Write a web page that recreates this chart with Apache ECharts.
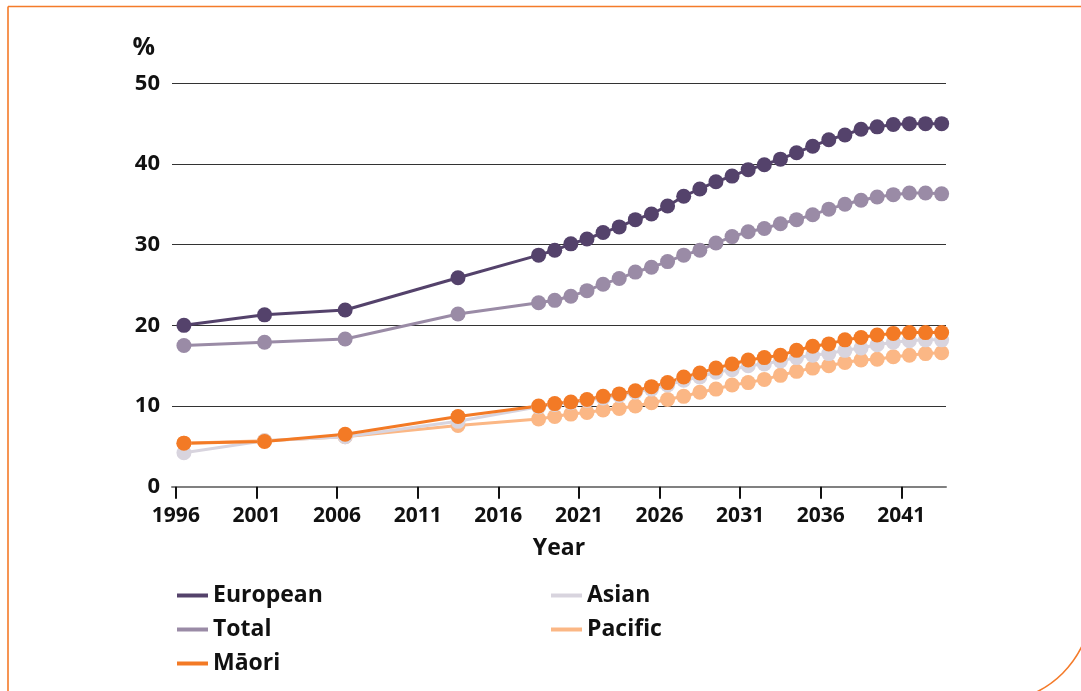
<!DOCTYPE html>
<html>
<head>
<meta charset="utf-8">
<title>Population share by ethnic group, 1996–2043</title>
<script src="https://cdn.jsdelivr.net/npm/echarts@6/dist/echarts.min.js"></script>
<style>
  html, body { margin: 0; padding: 0; background: #ffffff; }
  #chart { width: 1081px; height: 691px; }
</style>
</head>
<body>
<div id="chart"></div>
<script>
// Census years, then annual projections
const years = [1996, 2001, 2006, 2013, 2018, 2019, 2020, 2021, 2022, 2023, 2024, 2025,
  2026, 2027, 2028, 2029, 2030, 2031, 2032, 2033, 2034, 2035, 2036, 2037, 2038,
  2039, 2040, 2041, 2042, 2043];

// Percentages per group
const european = [20.0, 21.3, 21.9, 25.9, 28.7, 29.3, 30.1, 30.7, 31.5, 32.2, 33.1, 33.8,
  34.8, 36.0, 36.9, 37.8, 38.5, 39.3, 39.9, 40.6, 41.4, 42.2, 43.0, 43.6, 44.3,
  44.6, 44.9, 45.0, 45.0, 45.0];
const total = [17.5, 17.9, 18.3, 21.4, 22.8, 23.1, 23.6, 24.3, 25.1, 25.8, 26.6, 27.2,
  27.9, 28.7, 29.3, 30.2, 31.0, 31.6, 32.0, 32.6, 33.1, 33.7, 34.4, 35.0, 35.5,
  35.9, 36.2, 36.4, 36.4, 36.3];
const maori = [5.4, 5.6, 6.5, 8.7, 10.0, 10.3, 10.5, 10.8, 11.2, 11.5, 11.9, 12.4,
  12.9, 13.6, 14.1, 14.7, 15.2, 15.7, 16.0, 16.3, 16.9, 17.4, 17.7, 18.2, 18.5,
  18.8, 19.0, 19.1, 19.1, 19.1];
const asian = [4.2, 5.7, 6.2, 8.1, 9.9, 10.2, 10.4, 10.7, 11.0, 11.3, 11.7, 12.1,
  12.6, 13.2, 13.6, 14.2, 14.5, 15.0, 15.2, 15.6, 16.0, 16.3, 16.5, 16.9, 17.2,
  17.6, 17.9, 18.1, 18.2, 18.2];
const pacific = [5.4, 5.7, 6.2, 7.6, 8.4, 8.7, 9.0, 9.2, 9.5, 9.7, 10.0, 10.4,
  10.8, 11.2, 11.7, 12.1, 12.6, 12.9, 13.3, 13.8, 14.3, 14.7, 15.0, 15.4, 15.7,
  15.8, 16.1, 16.3, 16.5, 16.6];

const yearTicks = [1996, 2001, 2006, 2011, 2016, 2021, 2026, 2031, 2036, 2041];
const yTicks = [0, 10, 20, 30, 40, 50];

const groups = [
  { name: 'Pacific', values: pacific, color: '#fbb785' },
  { name: 'Asian', values: asian, color: '#d8d4de' },
  { name: 'Total', values: total, color: '#9a8ba6' },
  { name: 'European', values: european, color: '#54426b' },
  { name: 'Māori', values: maori, color: '#f37a25' }
];

// Values are as at 30 June, so each point sits half-way through its year
const toPoints = vals => years.map((y, i) => [y + 0.5, vals[i]]);

const FONT = 'Open Sans';
const INK = '#111111';

const chart = echarts.init(document.getElementById('chart'), null, { renderer: 'canvas' });

const legendText = { fontFamily: FONT, fontSize: 23, fontWeight: 700, color: INK, lineHeight: 22, padding: [0, 0, 0, 0] };

chart.setOption({
  backgroundColor: '#ffffff',
  animation: false,
  textStyle: { fontFamily: FONT },
  grid: { left: 172, right: 135, top: 83.3, bottom: 204.3 },
  xAxis: {
    type: 'value',
    min: 1995.76,
    max: 2043.77,
    name: 'Year',
    nameLocation: 'middle',
    nameGap: 50,
    nameTextStyle: { fontFamily: FONT, fontSize: 23, fontWeight: 700, color: INK },
    axisLine: { show: true, lineStyle: { color: '#808080', width: 2 } },
    axisTick: { show: true, customValues: yearTicks, length: 12, lineStyle: { color: '#111', width: 2 } },
    axisLabel: {
      customValues: yearTicks,
      margin: 19,
      fontFamily: FONT, fontSize: 21, fontWeight: 700, color: INK,
      formatter: v => String(v)
    },
    splitLine: { show: false }
  },
  yAxis: {
    type: 'value',
    min: 0,
    max: 50,
    interval: 10,
    name: '%',
    nameLocation: 'end',
    nameGap: 23,
    nameTextStyle: { fontFamily: FONT, fontSize: 25, fontWeight: 700, color: INK, align: 'right', padding: [0, 17, 0, 0] },
    axisLine: { show: false },
    axisTick: { show: false },
    axisLabel: { margin: 12, fontFamily: FONT, fontSize: 22, fontWeight: 700, color: INK,
      formatter: v => (yTicks.includes(v) ? String(v) : '') },
    splitLine: { show: true, lineStyle: { color: '#333333', width: 1 } }
  },
  legend: [
    {
      data: ['European', 'Total', 'Māori'],
      orient: 'vertical', left: 172, top: 579,
      icon: 'rect', itemWidth: 31, itemHeight: 4, itemGap: 11,
      selectedMode: false,
      textStyle: legendText
    },
    {
      data: ['Asian', 'Pacific'],
      orient: 'vertical', left: 546, top: 579,
      icon: 'rect', itemWidth: 31, itemHeight: 4, itemGap: 11,
      selectedMode: false,
      textStyle: legendText
    }
  ],
  graphic: [
    {
      type: 'rect',
      silent: true,
      z: -1,
      shape: { x: 8, y: 6.5, width: 1084, height: 696, r: [0, 0, 100, 0] },
      style: { fill: 'none', stroke: '#f47b2a', lineWidth: 1.6 }
    }
  ],
  series: groups.map(g => ({
    name: g.name,
    type: 'line',
    data: toPoints(g.values),
    color: g.color,
    symbol: 'circle',
    symbolSize: 15,
    showSymbol: true,
    lineStyle: { color: g.color, width: 3 },
    itemStyle: { color: g.color },
    emphasis: { disabled: true }
  }))
});
</script>
</body>
</html>
